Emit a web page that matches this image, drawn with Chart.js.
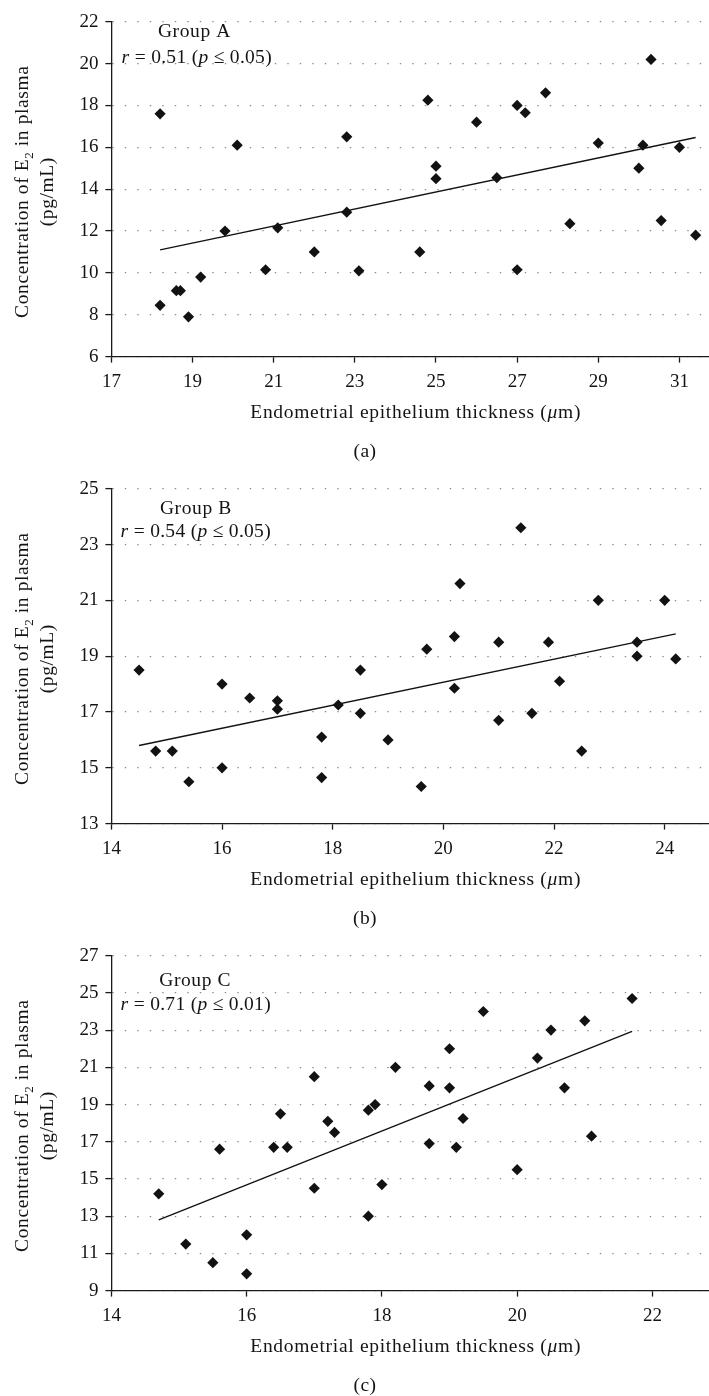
<!DOCTYPE html>
<html>
<head>
<meta charset="utf-8">
<script src="https://cdn.jsdelivr.net/npm/chart.js@4.4.1/dist/chart.umd.min.js"></script>
<style>
  html, body { margin: 0; padding: 0; background: #fff; width: 709px; height: 1396px; overflow: hidden; }
  canvas { position: absolute; left: 0; }
</style>
</head>
<body>
<canvas id="cA" width="740" height="467" style="top:0px"></canvas>
<canvas id="cB" width="740" height="467" style="top:467.3px"></canvas>
<canvas id="cC" width="740" height="467" style="top:934.3px"></canvas>
<script>
// ---------------- DATA ----------------
// Group A
const groupA_x = [18.2, 20.1, 22.8, 22.8, 19.8, 21.1, 22.0, 20.8, 23.1, 19.2, 18.6, 18.7, 18.2, 18.9,
                  24.8, 25.0, 25.0, 24.6, 26.0, 26.5, 27.0, 27.2, 27.0, 27.7, 28.3, 29.0, 30.0, 30.1, 30.3, 30.55, 31.0, 31.4];
const groupA_y = [17.6, 16.1, 16.5, 12.9, 12.0, 12.15, 11.0, 10.15, 10.1, 9.8, 9.15, 9.15, 8.45, 7.9,
                  18.25, 15.1, 14.5, 11.0, 17.2, 14.55, 18.0, 17.65, 10.15, 18.6, 12.35, 16.2, 15.0, 16.1, 20.2, 12.5, 16.0, 11.8];
const trendA_x = [18.2, 31.4];
const trendA_y = [11.1, 16.47];
const xTicksA = [17, 19, 21, 23, 25, 27, 29, 31];
const yTicksA = [6, 8, 10, 12, 14, 16, 18, 20, 22];

// Group B
const groupB_x = [14.5, 16.0, 16.5, 17.0, 17.0, 18.1, 18.5, 18.5, 17.8, 19.0, 14.8, 15.1, 16.0, 15.4, 17.8, 19.6,
                  21.4, 20.3, 22.8, 24.0, 20.2, 19.7, 21.0, 21.9, 23.5, 23.5, 24.2, 22.1, 20.2, 21.0, 21.6, 22.5];
const groupB_y = [18.5, 18.0, 17.5, 17.4, 17.1, 17.25, 18.5, 16.95, 16.1, 16.0, 15.6, 15.6, 15.0, 14.5, 14.65, 14.33,
                  23.6, 21.6, 21.0, 21.0, 19.7, 19.25, 19.5, 19.5, 19.5, 19.0, 18.9, 18.1, 17.85, 16.7, 16.95, 15.6];
const trendB_x = [14.5, 24.2];
const trendB_y = [15.8, 19.8];
const xTicksB = [14, 16, 18, 20, 22, 24];
const yTicksB = [13, 15, 17, 19, 21, 23, 25];

// Group C
const groupC_x = [18.2, 17.0, 16.5, 17.2, 17.3, 17.8, 17.9, 15.6, 16.4, 16.6, 17.0, 18.0, 17.8, 14.7, 16.0, 15.1, 15.5, 16.0,
                  21.7, 19.5, 21.0, 20.5, 19.0, 20.3, 18.7, 19.0, 20.7, 19.2, 18.7, 19.1, 21.1, 20.0];
const groupC_y = [21.0, 20.5, 18.5, 18.1, 17.5, 18.7, 19.0, 16.6, 16.7, 16.7, 14.5, 14.7, 13.0, 14.2, 12.0, 11.5, 10.5, 9.9,
                  24.7, 24.0, 23.5, 23.0, 22.0, 21.5, 20.0, 19.9, 19.9, 18.25, 16.9, 16.7, 17.3, 15.5];
const trendC_x = [14.7, 21.7];
const trendC_y = [12.8, 22.93];
const xTicksC = [14, 16, 18, 20, 22];
const yTicksC = [9, 11, 13, 15, 17, 19, 21, 23, 25, 27];

// Texts
const groupLabels = ["Group A", "Group B", "Group C"];
const rValues = ["0.51", "0.54", "0.71"];
const pValues = ["0.05", "0.05", "0.01"];
const captions = ["(a)", "(b)", "(c)"];
const xTitle = "Endometrial epithelium thickness";
const yTitle1a = "Concentration of E";
const yTitle1b = " in plasma";
const yTitle2 = "(pg/mL)";

// ---------------- RENDERING ----------------
const SERIF = "'Liberation Serif', 'Times New Roman', serif";
const TEXT = '#151314';
const INK = '#121212';

function toPoints(xs, ys) { return xs.map((x, i) => ({ x: x, y: ys[i] })); }

function fontStr(size, italic) { return (italic ? 'italic ' : '') + size + 'px ' + SERIF; }

// draw text segments [{t, italic, sub}] with alphabetic baseline
function drawRich(ctx, segs, x, y, align, size, spacing) {
  ctx.save();
  ctx.textBaseline = 'alphabetic';
  ctx.textAlign = 'left';
  if ('letterSpacing' in ctx) ctx.letterSpacing = spacing + 'px';
  const widths = segs.map(s => {
    ctx.font = fontStr(s.sub ? Math.round(size * 0.68) : size, s.italic);
    return ctx.measureText(s.t).width;
  });
  const total = widths.reduce((a, b) => a + b, 0);
  let cx = align === 'center' ? x - total / 2 : x;
  segs.forEach((s, i) => {
    ctx.font = fontStr(s.sub ? Math.round(size * 0.68) : size, s.italic);
    ctx.fillText(s.t, cx, y + (s.sub ? size * 0.28 : 0));
    cx += widths[i];
  });
  ctx.restore();
}

const panelText = {
  id: 'panelText',
  afterDraw(chart, args, o) {
    const ctx = chart.ctx, a = chart.chartArea;
    ctx.save();
    ctx.fillStyle = TEXT;
    // annotation
    drawRich(ctx, [{ t: groupLabels[o.idx] }], a.left + o.gPos[0], a.top + o.gPos[1], 'left', 19.5, 0.6);
    drawRich(ctx, [
      { t: 'r', italic: true },
      { t: ' = ' + rValues[o.idx] + ' (' },
      { t: 'p', italic: true },
      { t: ' \u2264 ' + pValues[o.idx] + ')' }
    ], a.left + o.rPos[0], a.top + o.rPos[1], 'left', 19.5, 0.3);
    // x title
    drawRich(ctx, [{ t: xTitle + ' (' }, { t: '\u03bc', italic: true }, { t: 'm)' }],
      (a.left + a.right) / 2, a.bottom + 61.5, 'center', 19.5, 0.7);
    // caption
    drawRich(ctx, [{ t: captions[o.idx] }], 365, a.bottom + 100, 'center', 19.5, 0.4);
    // y title (rotated)
    const cy = a.top + 170;
    ctx.save();
    ctx.translate(28, cy);
    ctx.rotate(-Math.PI / 2);
    drawRich(ctx, [{ t: yTitle1a }, { t: '2', sub: true }, { t: yTitle1b }], 0, 0, 'center', 19.5, 0.6);
    ctx.restore();
    ctx.save();
    ctx.translate(52.5, cy);
    ctx.rotate(-Math.PI / 2);
    drawRich(ctx, [{ t: yTitle2 }], 0, 0, 'center', 19.5, 0.6);
    ctx.restore();
    ctx.restore();
  }
};

function makePanel(id, idx, xs, ys, tx, ty, xTicks, yTicks, xMax, gPos, rPos) {
  new Chart(document.getElementById(id), {
    type: 'scatter',
    data: {
      datasets: [
        {
          data: toPoints(xs, ys),
          pointStyle: 'rectRot',
          pointRadius: 5.6,
          backgroundColor: INK,
          borderColor: INK,
          borderWidth: 0,
          order: 1
        },
        {
          data: toPoints(tx, ty),
          showLine: true,
          borderColor: INK,
          borderWidth: 1.4,
          pointRadius: 0,
          fill: false,
          order: 2
        }
      ]
    },
    options: {
      responsive: false,
      animation: false,
      devicePixelRatio: 1,
      events: [],
      layout: { padding: { left: 0, top: 21.7, right: 20, bottom: 0 } },
      plugins: {
        legend: { display: false },
        tooltip: { enabled: false },
        panelText: { idx: idx, gPos: gPos, rPos: rPos }
      },
      scales: {
        x: {
          type: 'linear',
          min: xTicks[0],
          max: xMax,
          afterBuildTicks: s => { s.ticks = xTicks.map(v => ({ value: v })); },
          afterFit: s => { s.height = 110.4; },
          border: { display: true, color: '#1a1a1a', width: 1.3 },
          grid: { drawOnChartArea: false, drawTicks: true, tickLength: 6, tickColor: '#1a1a1a', tickWidth: 1.3 },
          ticks: { color: TEXT, padding: 8, maxRotation: 0, autoSkip: false, font: { family: SERIF, size: 19 } }
        },
        y: {
          type: 'linear',
          min: yTicks[0],
          max: yTicks[yTicks.length - 1],
          afterBuildTicks: s => { s.ticks = yTicks.map(v => ({ value: v })); },
          afterFit: s => { s.width = 111.4; },
          border: { display: true, color: '#1a1a1a', width: 1.3, dash: [1.4, 11.1] },
          grid: { color: '#8c8c8c', lineWidth: 1.2, drawTicks: true, tickLength: 6, tickColor: '#1a1a1a', tickWidth: 1.3, tickBorderDash: [] },
          ticks: { color: TEXT, padding: 7, autoSkip: false, font: { family: SERIF, size: 19 } }
        }
      }
    },
    plugins: [panelText]
  });
}

makePanel('cA', 0, groupA_x, groupA_y, trendA_x, trendA_y, xTicksA, yTicksA, 32, [46.5, 15.6], [10.2, 41.6]);
makePanel('cB', 1, groupB_x, groupB_y, trendB_x, trendB_y, xTicksB, yTicksB, 25, [48.5, 25.3], [9.2, 48.7]);
makePanel('cC', 2, groupC_x, groupC_y, trendC_x, trendC_y, xTicksC, yTicksC, 23, [47.8, 30.7], [9.2, 54]);
</script>
</body>
</html>
